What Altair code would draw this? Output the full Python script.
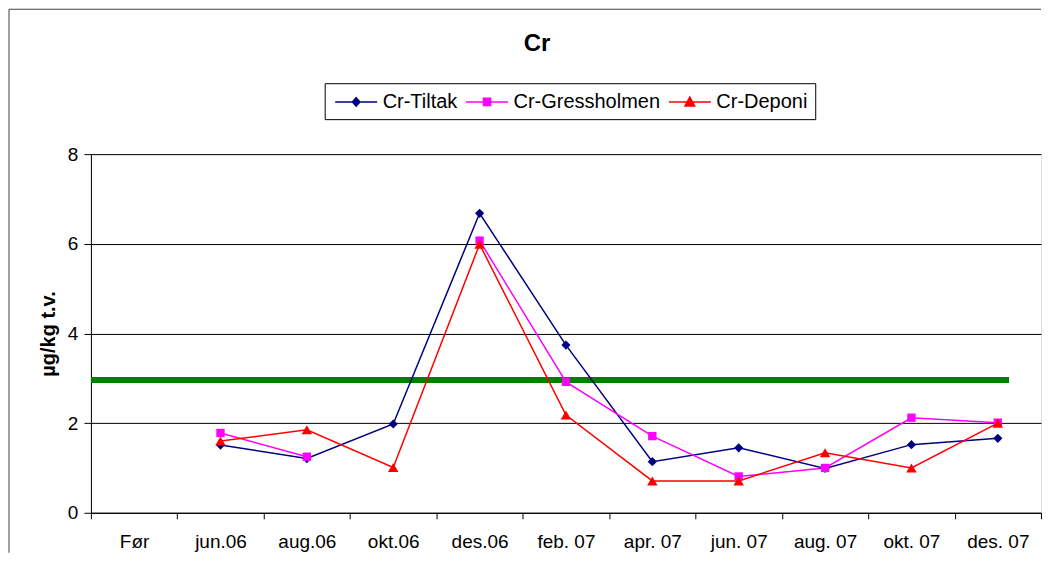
import json
import altair as alt
import pandas as pd

# ---- data ----
categories = ["Før", "jun.06", "aug.06", "okt.06", "des.06", "feb. 07",
              "apr. 07", "jun. 07", "aug. 07", "okt. 07", "des. 07"]
series_names = ["Cr-Tiltak", "Cr-Gressholmen", "Cr-Deponi"]
tiltak = [None, 1.51, 1.21, 1.98, 6.68, 3.74, 1.14, 1.45, 0.99, 1.52, 1.66]
gressholmen = [None, 1.78, 1.25, None, 6.07, 2.92, 1.71, 0.81, 1.00, 2.12, 2.01]
deponi = [None, 1.60, 1.85, 1.01, 5.99, 2.18, 0.71, 0.71, 1.34, 1.00, 2.00]
limit_value = [2.96]
limit_start = [0.0]      # in category units (left edge of plot)
limit_end = [10.63]      # in category units

series_colors = ["#000080", "#FF00FF", "#FF0000"]
marker_shapes = ["diamond", "square", "triangle-up"]
marker_sizes = [85, 70, 110]
# legend symbols: a short line with the marker in the middle
legend_paths = [
    "M-2,0H2M0,-0.4L0.36,0L0,0.4L-0.36,0Z",
    "M-2,0H2M-0.34,-0.34H0.34V0.34H-0.34Z",
    "M-2,0H2M0,-0.46L0.46,0.38H-0.46Z",
]

rows = []
for name, vals in zip(series_names, [tiltak, gressholmen, deponi]):
    for i, v in enumerate(vals):
        rows.append({"series": name, "idx": i + 0.5, "value": v})
df = pd.DataFrame(rows)
limit_df = pd.DataFrame({"start": limit_start, "end": limit_end, "value": limit_value})

FONT = "Liberation Sans"
W, H = 951, 359

xscale = alt.Scale(domain=[0, 11], nice=False, zero=False)
yscale = alt.Scale(domain=[0, 8], nice=False)

cat_js = json.dumps(categories, ensure_ascii=False)
x_axis = alt.Axis(
    values=[i * 0.5 for i in range(23)],
    labelExpr=f"datum.value % 1 == 0 ? '' : {cat_js}[floor(datum.value)]",
    labelOverlap=False, labelFlush=False,
    tickOpacity={"condition": {"test": "datum.value % 1 == 0", "value": 1}, "value": 0},
    tickSize=6, tickColor="black", domainColor="black", grid=False, title=None,
    labelFontSize=19, labelColor="black", labelPadding=14, labelFont=FONT,
)
y_axis = alt.Axis(
    values=[0, 2, 4, 6, 8], title="µg/kg t.v.", titleFontSize=20, titleFontWeight="bold",
    titleFont=FONT, titleColor="black", titlePadding=9,
    gridColor="black", gridWidth=1, grid=True, domainColor="black", tickColor="black",
    tickSize=7, labelFontSize=19, labelPadding=6, labelColor="black", labelFont=FONT,
)

base = alt.Chart(df)
X = alt.X("idx:Q", scale=xscale, axis=x_axis)
Y = alt.Y("value:Q", scale=yscale, axis=y_axis)

series_layers = []
for name, col in zip(series_names, series_colors):
    series_layers.append(
        base.transform_filter(f"datum.series == '{name}'")
        .mark_line(strokeWidth=1.5, color=col, invalid="break-paths-filter-domains")
        .encode(x=X, y=Y)
    )
for name, col, shp, sz in zip(series_names, series_colors, marker_shapes, marker_sizes):
    series_layers.append(
        base.transform_filter(f"datum.series == '{name}' && isValid(datum.value)")
        .mark_point(filled=True, shape=shp, size=sz, opacity=1, color=col)
        .encode(x=X, y=Y)
    )

limit = alt.Chart(limit_df).mark_rule(color="#008000", strokeWidth=6).encode(
    x=alt.X("start:Q", scale=xscale, axis=x_axis),
    x2="end:Q",
    y=alt.Y("value:Q", scale=yscale, axis=y_axis),
)

legend_kw = dict(
    title=None, orient="none", legendX=234, legendY=-71, direction="horizontal",
    strokeColor="black", fillColor="white", padding=7,
    symbolSize=441, symbolOffset=13, labelOffset=15, columnPadding=5,
    symbolStrokeWidth=1.5, symbolOpacity=1,
    labelFontSize=20, labelFont=FONT, labelColor="black",
)
legend_layer = base.transform_filter("false").mark_point(
    filled=True, strokeWidth=1.5, opacity=1
).encode(
    x=X, y=Y,
    fill=alt.Fill("series:N", scale=alt.Scale(domain=series_names, range=series_colors),
                  legend=alt.Legend(**legend_kw)),
    stroke=alt.Stroke("series:N", scale=alt.Scale(domain=series_names, range=series_colors),
                      legend=alt.Legend(**legend_kw)),
    shape=alt.Shape("series:N", scale=alt.Scale(domain=series_names, range=legend_paths),
                    legend=alt.Legend(**legend_kw)),
)

frame_src = alt.Chart(pd.DataFrame({"k": [0]}))
frame_left = frame_src.mark_rule(color="#404040", strokeWidth=1).encode(
    x=alt.value(-82), y=alt.value(-145), y2=alt.value(H + 40))
frame_top = frame_src.mark_rule(color="#404040", strokeWidth=1).encode(
    x=alt.value(-82), x2=alt.value(W), y=alt.value(-145))

chart = alt.layer(
    frame_left, frame_top, limit, *series_layers, legend_layer
).properties(
    width=W, height=H,
    title=alt.Title("Cr", fontSize=24, fontWeight="bold", font=FONT, color="black",
                    anchor="middle", dx=-29, offset=-47),
    padding=0,
).configure_view(stroke=None).configure(background="white")

chart.save("out.html", embed_options={"renderer": "svg", "actions": False})
